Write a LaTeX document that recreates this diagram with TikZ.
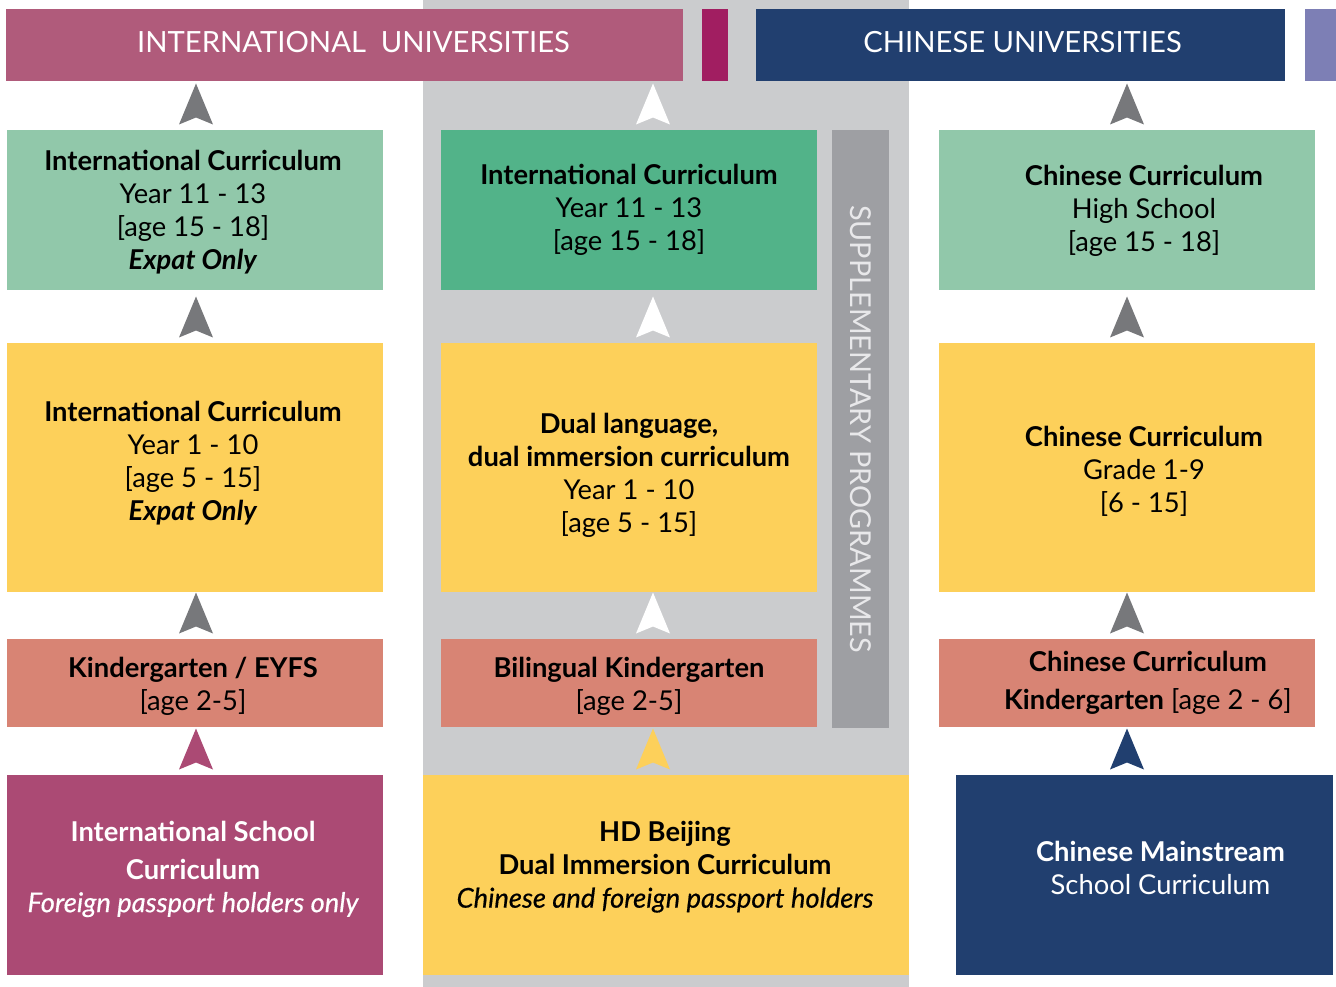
\documentclass[tikz,border=0pt]{standalone}
\usepackage{fontspec}
\setmainfont{Lato}
\newfontfamily\medfam[FakeBold=0.5]{Lato}
\newcommand\medit[1]{{\medfam\itshape #1}}
\usetikzlibrary{calc}
\definecolor{pinkbar}{HTML}{B05B7B}
\definecolor{magbar}{HTML}{A11E61}
\definecolor{navy}{HTML}{213F6F}
\definecolor{lav}{HTML}{7D7FB5}
\definecolor{greenA}{HTML}{91C8AA}
\definecolor{greenB}{HTML}{52B389}
\definecolor{yell}{HTML}{FDD05A}
\definecolor{salmon}{HTML}{D88474}
\definecolor{magbox}{HTML}{AB4A74}
\definecolor{arrgray}{HTML}{77787B}
\definecolor{bggray}{HTML}{CBCCCE}
\definecolor{suppgray}{HTML}{9E9FA3}
\definecolor{supptext}{HTML}{E8E8EA}
% name, x1, y1, x2, y2, fill, text style, dx/dy, text
\newcommand\pbox[9]{%
  \node[cell, fill=#6, minimum width={(#4-#2)*0.75pt}, minimum height={(#5-#3)*0.75pt}] (#1) at ({(#2+#4)/2},{(#3+#5)/2}) {};
  \node[#7] (#1t) at ($(#1.center)+(#8)$) {#9};}
\newcommand\uarr[3]{\fill[#3] ($(#2.north -| #1)+(-17,-5.5)$) -- ++(17,-41) -- ++(17,41) -- ++(-17,-7) -- cycle;}
\begin{document}
\begin{tikzpicture}[x=0.75pt,y=-0.75pt,
  cell/.style={rectangle, inner sep=0pt, outer sep=0pt, draw=none},
  txt/.style={inner sep=0pt, align=center, font=\fontsize{20.5}{24.75}\selectfont, text=black},
  wtxt/.style={txt, text=white},
  bartxt/.style={inner sep=0pt, align=center, font=\fontsize{21.9}{24}\selectfont, text=white}]
\useasboundingbox (0,0) rectangle (1336,987);
\fill[bggray] (423,0) rectangle (909,987);
% top bars
\pbox{intu}{6}{9}{683}{81}{pinkbar}{bartxt}{9,-3}{INTERNATIONAL\ \ UNIVERSITIES}
\pbox{magb}{702}{9}{728}{81}{magbar}{bartxt}{0,0}{}
\pbox{chnu}{756}{9}{1285}{81}{navy}{bartxt}{2,-3}{CHINESE UNIVERSITIES}
\pbox{lavb}{1305}{9}{1340}{81}{lav}{bartxt}{0,0}{}
% left column
\pbox{lg}{7}{130}{383}{290}{greenA}{txt}{-2,2}{\textbf{International Curriculum}\\Year 11 - 13\\{[age 15 - 18]}\\\textbf{\textit{Expat Only}}}
\pbox{ly}{7}{343}{383}{592}{yell}{txt}{-2,-4}{\textbf{International Curriculum}\\Year 1 - 10\\{[age 5 - 15]}\\\textbf{\textit{Expat Only}}}
\pbox{ls}{7}{639}{383}{727}{salmon}{txt}{-2,3}{\textbf{Kindergarten / EYFS}\\{[age 2-5]}}
\pbox{lm}{7}{775}{383}{975}{magbox}{wtxt}{-2,-6}{\textbf{International School}\\[3.75pt]\textbf{Curriculum}\\\medit{Foreign passport holders only}}
% middle column
\pbox{mg}{441}{130}{817}{290}{greenB}{txt}{0,0}{\textbf{International Curriculum}\\Year 11 - 13\\{[age 15 - 18]}}
\pbox{my}{441}{343}{817}{592}{yell}{txt}{0,8}{\textbf{Dual language,}\\\textbf{dual immersion curriculum}\\Year 1 - 10\\{[age 5 - 15]}}
\pbox{ms}{441}{639}{817}{727}{salmon}{txt}{0,3}{\textbf{Bilingual Kindergarten}\\{[age 2-5]}}
\pbox{supp}{832}{130}{889}{728}{suppgray}{txt}{0,0}{}
\node[rotate=-90, text=supptext, font=\fontsize{21.6}{24}\selectfont, inner sep=0pt] (supptxt) at (supp.center) {SUPPLEMENTARY PROGRAMMES};
\pbox{hd}{423}{775}{909}{975}{yell}{txt}{-1,-8}{\textbf{HD Beijing}\\\textbf{Dual Immersion Curriculum}\\\medit{Chinese and foreign passport holders}}
% right column
\pbox{rg}{939}{130}{1315}{290}{greenA}{txt}{17,1}{\textbf{Chinese Curriculum}\\High School\\{[age 15 - 18]}}
\pbox{ry}{939}{343}{1315}{592}{yell}{txt}{17,4}{\textbf{Chinese Curriculum}\\Grade 1-9\\{[6 - 15]}}
\pbox{rs}{939}{639}{1315}{727}{salmon}{txt}{21,0}{\textbf{Chinese Curriculum}\\[3.75pt]\textbf{Kindergarten} [age 2 - 6]}
\pbox{rm}{956}{775}{1333}{975}{navy}{wtxt}{16,-7}{\textbf{Chinese Mainstream}\\School Curriculum}
% arrows
\coordinate (cl) at (196,0);
\coordinate (cm) at (653,0);
\coordinate (cr) at (1127,0);
\uarr{cl}{lg}{arrgray}
\uarr{cl}{ly}{arrgray}
\uarr{cl}{ls}{arrgray}
\uarr{cl}{lm}{magbox}
\uarr{cm}{mg}{white}
\uarr{cm}{my}{white}
\uarr{cm}{ms}{white}
\uarr{cm}{hd}{yell}
\uarr{cr}{rg}{arrgray}
\uarr{cr}{ry}{arrgray}
\uarr{cr}{rs}{arrgray}
\uarr{cr}{rm}{navy}
\end{tikzpicture}
\end{document}
